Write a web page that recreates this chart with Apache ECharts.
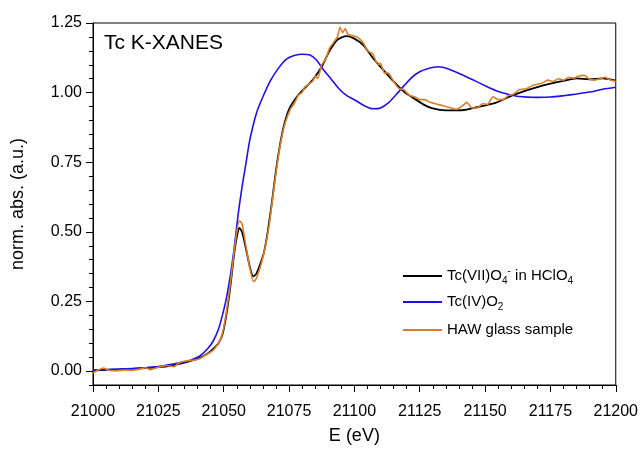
<!DOCTYPE html>
<html>
<head>
<meta charset="utf-8">
<script src="https://cdn.jsdelivr.net/npm/echarts@6/dist/echarts.min.js"></script>
<style>html,body{margin:0;padding:0;background:#fff}#c{width:641px;height:450px}</style>
</head>
<body>
<div id="c"></div>
<script>
// ---- data ----
const seriesNames = ['Tc(VII)O4- in HClO4', 'Tc(IV)O2', 'HAW glass sample'];

const pertechnetateE = [21000,21005,21010,21015,21020,21025,21030,21035,21038,21041,21044,21046,21048,21049.5,21051,21052.5,21054,21055,21056,21057,21058.5,21060,21061.3,21062.5,21064,21065.5,21067,21068.5,21070,21071.5,21073,21075,21078,21081,21084,21087.5,21090.5,21093.5,21097,21100,21103.5,21107,21111,21115,21119,21122.5,21126.5,21130,21135,21139,21143,21148,21154,21160,21165,21170,21175,21180,21185,21190,21195,21200];
const pertechnetateV = [0.002,0.004,0.006,0.008,0.011,0.014,0.02,0.03,0.038,0.048,0.064,0.08,0.1,0.13,0.2,0.3,0.42,0.48,0.514,0.5,0.44,0.375,0.34,0.35,0.385,0.43,0.51,0.61,0.72,0.81,0.88,0.94,0.985,1.016,1.045,1.093,1.15,1.19,1.203,1.194,1.17,1.125,1.082,1.04,1.003,0.981,0.957,0.943,0.936,0.936,0.939,0.95,0.963,0.988,1.005,1.02,1.032,1.042,1.051,1.048,1.051,1.043];

const dioxideE = [21000,21010,21020,21025,21030,21035,21038,21041,21044,21046,21048,21049.5,21051,21052.5,21054,21055.5,21057,21058.5,21060,21062.5,21065,21068,21071,21074,21077,21080,21083,21085.5,21088,21091,21094,21097,21101,21104,21107,21110,21113,21116,21119,21122,21125,21128,21132,21136,21141,21146,21150,21154,21158,21163,21170,21175,21180,21185,21190,21195,21200];
const dioxideV = [0.004,0.007,0.012,0.016,0.024,0.033,0.042,0.055,0.082,0.108,0.15,0.2,0.26,0.34,0.44,0.56,0.66,0.745,0.83,0.925,0.985,1.045,1.088,1.12,1.133,1.138,1.135,1.117,1.084,1.05,1.015,0.99,0.969,0.952,0.942,0.945,0.963,0.993,1.025,1.055,1.075,1.086,1.093,1.085,1.065,1.043,1.025,1.008,0.996,0.986,0.983,0.984,0.989,0.995,1.002,1.012,1.019];

const glassE = [21000,21002,21004,21006,21009,21012,21015,21018,21020,21022,21025,21028,21031,21033,21036,21039,21041,21043,21044.5,21046,21048,21049.5,21051,21052.5,21054,21055,21056,21057,21058.5,21060,21061.3,21062,21063,21064.5,21066,21067.5,21069,21070.5,21072,21073.5,21075.5,21077,21078.5,21080,21081,21082.5,21084,21085,21086,21087.5,21089,21090.5,21092,21093.5,21094.5,21095.5,21096.5,21097.5,21099,21101,21103.5,21105,21107,21109,21110,21111.5,21113,21115,21117,21119,21121,21123,21125,21127,21129,21131,21133,21135,21137,21139,21141,21143,21145,21147,21149,21151,21153,21155,21157,21159,21161,21163,21166,21168,21170,21172,21174,21176,21178,21180,21182,21184,21186,21188,21190,21192,21194,21196,21198,21200];
const glassV = [-0.006,0.004,0.011,0.003,0.001,0.004,0.003,0.007,0.012,0.005,0.014,0.02,0.016,0.03,0.037,0.04,0.045,0.058,0.065,0.075,0.1,0.135,0.21,0.31,0.43,0.5,0.54,0.53,0.45,0.37,0.322,0.325,0.345,0.39,0.45,0.53,0.64,0.745,0.83,0.89,0.94,0.96,0.99,1.0,1.02,1.03,1.04,1.06,1.05,1.1,1.12,1.16,1.18,1.2,1.235,1.215,1.23,1.21,1.205,1.2,1.178,1.15,1.14,1.1,1.105,1.07,1.07,1.04,1.015,1.01,0.99,0.985,0.975,0.975,0.965,0.96,0.955,0.95,0.945,0.94,0.95,0.965,0.945,0.945,0.96,0.958,0.985,0.975,0.975,0.99,0.995,1.01,1.015,1.025,1.03,1.035,1.045,1.04,1.05,1.045,1.055,1.052,1.06,1.062,1.048,1.045,1.05,1.055,1.045,1.04];

const xTickLabels = [21000,21025,21050,21075,21100,21125,21150,21175,21200];
const yTickLabels = [0, 0.25, 0.5, 0.75, 1.0, 1.25];

// ---- chart ----
function pairs(xs, ys){ return xs.map((x,i)=>[x, ys[i]]); }
const FONT = 'Liberation Sans, Arial, sans-serif';
const chart = echarts.init(document.getElementById('c'), null, {renderer:'canvas'});

const legendRich = {
  b: {fontSize: 15, fontFamily: FONT, color:'#000', lineHeight: 20, verticalAlign:'middle'},
  sub: {fontSize: 10, fontFamily: FONT, color:'#000', lineHeight: 20, verticalAlign:'bottom'},
  sup: {fontSize: 10, fontFamily: FONT, color:'#000', lineHeight: 20, verticalAlign:'top'}
};
function mkLegend(name, top, fmt){
  return {
    data:[name], left: 398, top: top, orient:'vertical',
    icon: 'rect', itemWidth: 39, itemHeight: 2,
    formatter: fmt,
    textStyle: {fontSize: 15, fontFamily: FONT, color:'#000', lineHeight: 20, rich: legendRich}
  };
}

const option = {
  animation: false,
  backgroundColor: '#fff',
  title: {
    text: 'Tc K-XANES', left: 99, top: 28,
    textStyle: {fontSize: 21, fontWeight: 'normal', fontFamily: FONT, color: '#000'}
  },
  legend: [
    mkLegend(seriesNames[0], 261, () => '{b|Tc(VII)O}{sub|4}{sup|-}{b| in HClO}{sub|4}'),
    mkLegend(seriesNames[1], 287, () => '{b|Tc(IV)O}{sub|2}'),
    mkLegend(seriesNames[2], 315, () => '{b|HAW glass sample}')
  ],
  grid: {left: 93, top: 23, width: 523, height: 365, show: true, borderColor: '#000', borderWidth: 1, containLabel: false},
  xAxis: {
    type: 'value', min: xTickLabels[0], max: xTickLabels[xTickLabels.length-1], interval: 25,
    name: 'E (eV)', nameLocation: 'middle', nameGap: 42,
    nameTextStyle: {fontSize: 18, fontFamily: FONT, color: '#000'},
    axisLine: {show: true, onZero: false, lineStyle: {color: '#000', width: 1}},
    axisTick: {show: true, length: 7, lineStyle: {color: '#000'}},
    minorTick: {show: true, splitNumber: 5, length: 4, lineStyle: {color: '#000'}},
    axisLabel: {fontSize: 16, fontFamily: FONT, color: '#000', margin: 19, showMinLabel: true, showMaxLabel: true,
      formatter: v => String(v)},
    splitLine: {show: false}
  },
  yAxis: [
    {
      type: 'value', min: -0.05, max: 1.25, interval: 0.05,
      axisLine: {show: true, onZero: false, lineStyle: {color: '#000', width: 1}},
      axisTick: {show: true, length: 4, lineStyle: {color: '#000'}},
      axisLabel: {show: false},
      splitLine: {show: false}
    },
    {
      type: 'value', min: -0.05, max: 1.25, position: 'left',
      name: 'norm. abs. (a.u.)', nameLocation: 'middle', nameGap: 66, nameRotate: 90,
      nameTextStyle: {fontSize: 18, fontFamily: FONT, color: '#000'},
      axisLine: {show: false, onZero: false},
      axisTick: {show: true, length: 7, customValues: yTickLabels, lineStyle: {color: '#000'}},
      axisLabel: {fontSize: 16, fontFamily: FONT, color: '#000', margin: 11, customValues: yTickLabels,
        formatter: v => v.toFixed(2)},
      splitLine: {show: false}
    }
  ],
  series: [
    {name: seriesNames[0], type: 'line', data: pairs(pertechnetateE, pertechnetateV), showSymbol: false, symbol: 'none', smooth: 0.25,
     lineStyle: {color: '#000000', width: 1.8}, itemStyle: {color: '#000000'}, z: 2},
    {name: seriesNames[1], type: 'line', data: pairs(dioxideE, dioxideV), showSymbol: false, symbol: 'none', smooth: 0.25,
     lineStyle: {color: '#2010e8', width: 1.6}, itemStyle: {color: '#2010e8'}, z: 3},
    {name: seriesNames[2], type: 'line', data: pairs(glassE, glassV), showSymbol: false, symbol: 'none', smooth: 0.15,
     lineStyle: {color: '#d8802c', width: 1.6}, itemStyle: {color: '#d8802c'}, z: 4}
  ]
};
chart.setOption(option);
</script>
</body>
</html>
